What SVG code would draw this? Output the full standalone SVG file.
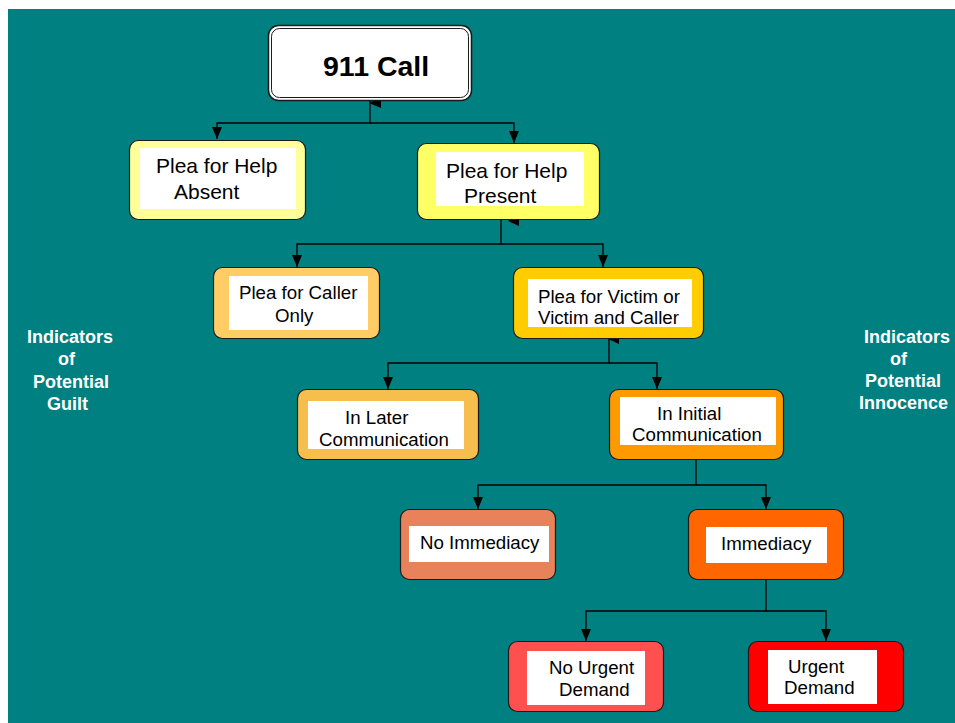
<svg xmlns="http://www.w3.org/2000/svg" width="955" height="723" viewBox="0 0 955 723">
<style>
.box{stroke:#1a1a1a;stroke-width:1.2}
.in{fill:#ffffff}
.t{font-family:"Liberation Sans",Arial,sans-serif;fill:#000}
.t21{font-size:21px}
.t19{font-size:18.7px}
.side{font-family:"Liberation Sans",Arial,sans-serif;font-size:18px;font-weight:bold;fill:#ffffff}
.c{fill:none;stroke:#000;stroke-width:1.3}
.tri{fill:#000}
</style>
<defs>
<marker id="arr" viewBox="0 0 12 10" markerWidth="12" markerHeight="10" refX="12" refY="5" orient="auto" markerUnits="userSpaceOnUse">
<path d="M0,0 L12,5 L0,10 z" fill="#000"/>
</marker>
</defs>
<rect x="0" y="0" width="955" height="723" fill="#ffffff"/>
<rect x="8" y="9" width="947" height="714" fill="#008080"/>

<g id="connectors">
<path class="c" d="M370,101 V123 H217 V139" marker-end="url(#arr)"/>
<path class="c" d="M370,123 H514 V143" marker-end="url(#arr)"/>
<path class="c" d="M501,220 V244 H297 V267" marker-end="url(#arr)"/>
<path class="c" d="M501,244 H603 V267" marker-end="url(#arr)"/>
<path class="c" d="M609,339 V363 H388 V389" marker-end="url(#arr)"/>
<path class="c" d="M609,363 H657 V389" marker-end="url(#arr)"/>
<path class="c" d="M696,460 V485 H478 V509" marker-end="url(#arr)"/>
<path class="c" d="M696,485 H766 V509" marker-end="url(#arr)"/>
<path class="c" d="M766,580 V611 H586 V641" marker-end="url(#arr)"/>
<path class="c" d="M766,611 H826 V641" marker-end="url(#arr)"/>
<polygon class="tri" points="369,103 381,97 381,108"/>
<polygon class="tri" points="508,221 519,215 519,226"/>
<polygon class="tri" points="608,339 619,334 619,344"/>
</g>

<g id="n911">
<rect x="268.5" y="25.5" width="203" height="75" rx="10" fill="#ffffff" stroke="#1a1a1a" stroke-width="1.5"/>
<rect x="271.5" y="28.5" width="197" height="69" rx="8" fill="none" stroke="#1a1a1a" stroke-width="1"/>
<text class="t" x="323" y="76" font-size="28.5" font-weight="bold">911 Call</text>
</g>

<g id="absent">
<rect class="box" x="129.5" y="140.5" width="176" height="79" rx="9" fill="#FFFF99"/>
<rect class="in" x="140" y="148" width="156" height="61"/>
<text class="t t21" x="156" y="173">Plea for Help</text>
<text class="t t21" x="174" y="199">Absent</text>
</g>

<g id="present">
<rect class="box" x="417.5" y="143.5" width="182" height="76" rx="9" fill="#FFFF66"/>
<rect class="in" x="436" y="152" width="148" height="54"/>
<text class="t t21" x="446" y="178">Plea for Help</text>
<text class="t t21" x="464" y="203">Present</text>
</g>

<g id="caller">
<rect class="box" x="213.5" y="267.5" width="166" height="71" rx="9" fill="#FFCC66"/>
<rect class="in" x="229" y="276" width="139" height="54"/>
<text class="t t19" x="239" y="299">Plea for Caller</text>
<text class="t t19" x="275" y="322">Only</text>
</g>

<g id="victim">
<rect class="box" x="513.5" y="267.5" width="190" height="71" rx="9" fill="#FFCC00"/>
<rect class="in" x="528" y="279" width="164" height="48"/>
<text class="t t19" x="538" y="303">Plea for Victim or</text>
<text class="t t19" x="538" y="324">Victim and Caller</text>
</g>

<g id="later">
<rect class="box" x="297.5" y="389.5" width="181" height="70" rx="9" fill="#F5BE4D"/>
<rect class="in" x="308" y="401" width="156" height="48"/>
<text class="t t19" x="345" y="424">In Later</text>
<text class="t t19" x="319" y="446">Communication</text>
</g>

<g id="initial">
<rect class="box" x="609.5" y="389.5" width="174" height="70" rx="9" fill="#FF9900"/>
<rect class="in" x="620" y="397" width="156" height="48"/>
<text class="t t19" x="657" y="420">In Initial</text>
<text class="t t19" x="632" y="441">Communication</text>
</g>

<g id="noimmediacy">
<rect class="box" x="400.5" y="509.5" width="155" height="70" rx="9" fill="#E8825A"/>
<rect class="in" x="409" y="526" width="140" height="36"/>
<text class="t t19" x="420" y="549">No Immediacy</text>
</g>

<g id="immediacy">
<rect class="box" x="688.5" y="509.5" width="155" height="70" rx="9" fill="#FF6600"/>
<rect class="in" x="706" y="527" width="121" height="36"/>
<text class="t t19" x="721" y="550">Immediacy</text>
</g>

<g id="nourgent">
<rect class="box" x="508.5" y="641.5" width="155" height="70" rx="9" fill="#FF5050"/>
<rect class="in" x="527" y="651" width="118" height="54"/>
<text class="t t19" x="549" y="674">No Urgent</text>
<text class="t t19" x="559" y="696">Demand</text>
</g>

<g id="urgent">
<rect class="box" x="748.5" y="641.5" width="155" height="70" rx="9" fill="#FF0000"/>
<rect class="in" x="768" y="650" width="109" height="54"/>
<text class="t t19" x="788" y="673">Urgent</text>
<text class="t t19" x="784" y="694">Demand</text>
</g>

<g id="guilt">
<text class="side" x="27" y="343">Indicators</text>
<text class="side" x="58" y="365">of</text>
<text class="side" x="33" y="388">Potential</text>
<text class="side" x="47" y="410">Guilt</text>
</g>

<g id="innocence">
<text class="side" x="864" y="343">Indicators</text>
<text class="side" x="890" y="365">of</text>
<text class="side" x="865" y="387">Potential</text>
<text class="side" x="859" y="409">Innocence</text>
</g>
</svg>
